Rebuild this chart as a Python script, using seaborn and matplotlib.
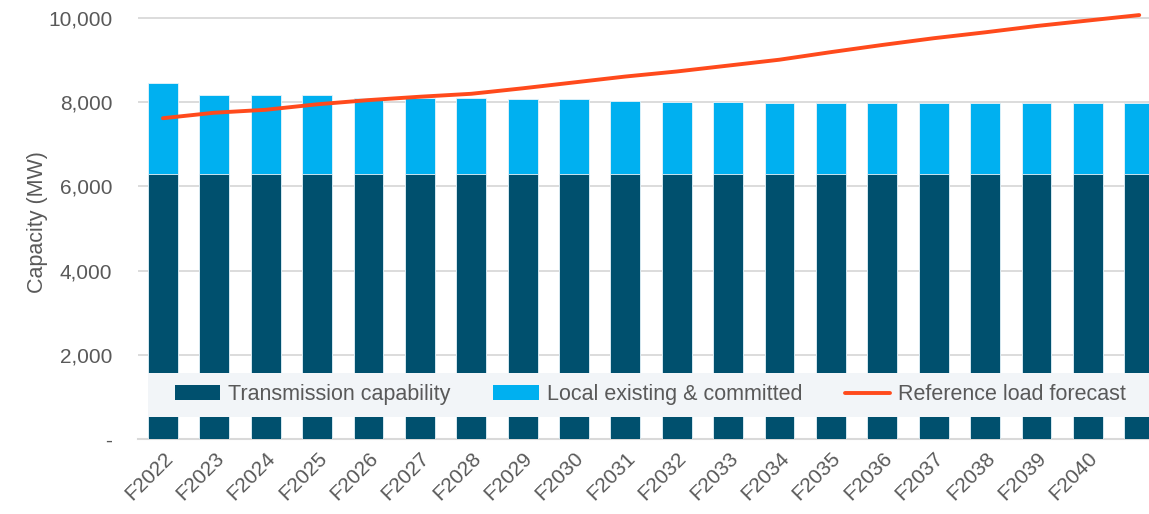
import numpy as np
import pandas as pd
import matplotlib
matplotlib.use('Agg')
import matplotlib.pyplot as plt
import seaborn as sns
from matplotlib.patches import Patch
from matplotlib.lines import Line2D

# data
years = ['F2022', 'F2023', 'F2024', 'F2025', 'F2026', 'F2027', 'F2028', 'F2029', 'F2030', 'F2031',
         'F2032', 'F2033', 'F2034', 'F2035', 'F2036', 'F2037', 'F2038', 'F2039', 'F2040', 'F2041']
tick_labels = years[:-1] + ['']
transmission = [6300] * 20
local = [2150, 1870, 1870, 1870, 1810, 1810, 1810, 1780, 1780, 1720,
         1700, 1700, 1670, 1670, 1670, 1670, 1670, 1670, 1670, 1670]
load_forecast = [7620, 7750, 7820, 7950, 8050, 8130, 8200, 8330, 8470, 8610,
                 8730, 8870, 9010, 9190, 9360, 9520, 9660, 9810, 9940, 10070]

dark = '#00506E'
light = '#00B0F0'
orange = '#FF4A1C'
grey_txt = '#595959'

df = pd.DataFrame({'Year': years, 'Transmission': transmission, 'Local': local, 'Load': load_forecast})
df['Total'] = df['Transmission'] + df['Local']

sns.set_style('white')
plt.rcParams['font.family'] = ['Liberation Sans', 'DejaVu Sans']

fig = plt.figure(figsize=(11.49, 5.14), dpi=100)
ax = fig.add_axes([0.1201, 0.146, 0.8799, 0.8435])

# stacked bars: total in light blue, transmission drawn over it
sns.barplot(data=df, x='Year', y='Total', color=light, saturation=1, width=0.58,
            edgecolor='#E8F4FA', linewidth=0.6, ax=ax, zorder=2)
sns.barplot(data=df, x='Year', y='Transmission', color=dark, saturation=1, width=0.58,
            edgecolor='#E8F4FA', linewidth=0.6, ax=ax, zorder=3)
sns.lineplot(x=np.arange(len(years)), y=df['Load'], color=orange, linewidth=2.8,
             ax=ax, zorder=4, legend=False)

ax.set_ylim(0, 10300)
ax.set_xlim(-0.485, 19.19)
ax.set_yticks([0, 2000, 4000, 6000, 8000, 10000])
ax.set_yticklabels(['-', '2,000', '4,000', '6,000', '8,000', '10,000'])
ax.set_xticks(np.arange(len(years)))
ax.set_xticklabels(tick_labels, rotation=45, ha='right', rotation_mode='anchor')
ax.tick_params(axis='both', length=0, labelsize=15, colors=grey_txt)
ax.tick_params(axis='y', pad=18.5)
ax.tick_params(axis='x', pad=7)
ax.set_xlabel('')
ax.set_ylabel('Capacity (MW)', fontsize=15.5, color=grey_txt, labelpad=0)

ax.yaxis.grid(True, color='#D9D9D9', linewidth=1.3)
ax.set_axisbelow(True)
for s in ['top', 'right', 'left']:
    ax.spines[s].set_visible(False)
ax.spines['bottom'].set_color('#D9D9D9')
ax.spines['bottom'].set_linewidth(1.5)

# legend band across the lower part of the plot
ax.axhspan(522, 1570, xmin=0.01, xmax=1, color='#F2F5F8', zorder=4.5, linewidth=0)

handles = [Patch(facecolor=dark, edgecolor='none'),
           Patch(facecolor=light, edgecolor='none'),
           Line2D([0], [0], color=orange, linewidth=2.8)]
names = ['Transmission capability', 'Local existing & committed', 'Reference load forecast']
leg = ax.legend(handles, names, ncol=3, loc='center',
                bbox_to_anchor=(0.507, 0.1015), fontsize=15.5, frameon=False,
                borderaxespad=0, handlelength=2.1, handletextpad=0.37,
                columnspacing=2.0, borderpad=0.5)
for t in leg.get_texts():
    t.set_color(grey_txt)
leg.set_zorder(5)

fig.savefig('out.png', dpi=100)
